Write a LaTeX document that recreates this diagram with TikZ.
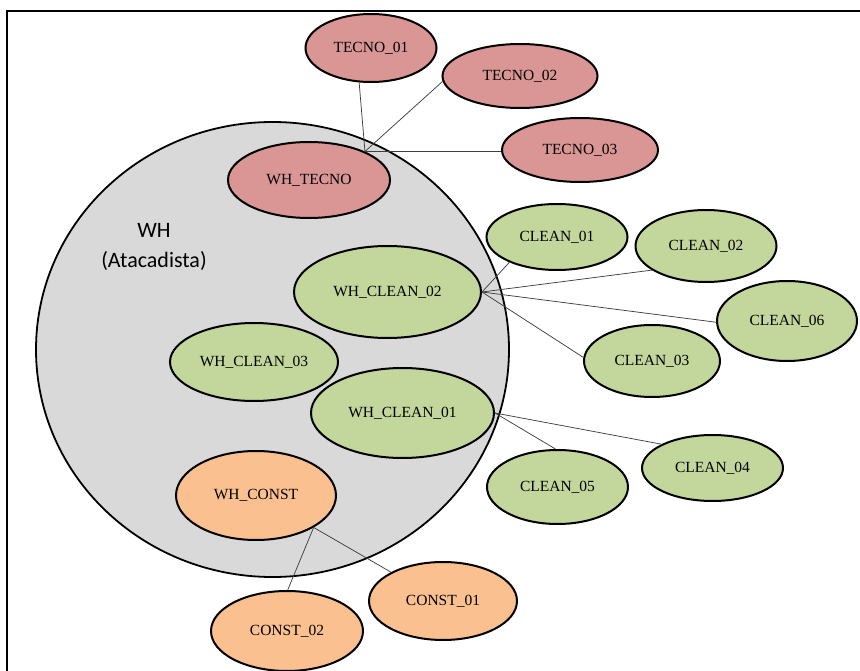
\documentclass[tikz,border=0pt]{standalone}
\usepackage{fontspec}
\setmainfont{Liberation Serif}
\newfontfamily\labelsans{Carlito}
\usetikzlibrary{shapes.geometric}
\definecolor{tecnofill}{HTML}{D99694}
\definecolor{cleanfill}{HTML}{C3D69B}
\definecolor{constfill}{HTML}{FAC090}
\definecolor{whfill}{HTML}{D9D9D9}
\definecolor{linkgray}{HTML}{404040}
\tikzset{
  blob/.style={ellipse, draw=black, line width=2pt, inner sep=0pt,
    font=\fontsize{15.5}{18}\selectfont, text=black},
  tecno/.style={blob, fill=tecnofill},
  clean/.style={blob, fill=cleanfill},
  constr/.style={blob, fill=constfill},
  link/.style={draw=linkgray, line width=0.75pt},
}
\begin{document}
\begin{tikzpicture}[x=1pt,y=-1pt]
\useasboundingbox (0,0) rectangle (860,671);
% page frame
\draw[line width=1.3pt] (7,690) -- (7,11) -- (870,11);

% warehouse area
\node (wh) [ellipse, draw=black, line width=1.8pt, fill=whfill, inner sep=0pt,
  minimum width=473pt, minimum height=455pt] at (272.5,349.5) {};
\node (whlabel) [font=\labelsans\fontsize{22}{30}\selectfont, align=center, text=black]
  at (154,247) {WH\\(Atacadista)};

% technology group
\node (whtecno) [tecno, minimum width=162pt, minimum height=76pt] at (309,180) {WH\_TECNO};
\node (t1) [tecno, minimum width=131pt, minimum height=68pt] at (371,48) {TECNO\_01};
\node (t2) [tecno, minimum width=155pt, minimum height=64pt] at (520,76) {TECNO\_02};
\node (t3) [tecno, minimum width=156pt, minimum height=64pt] at (580,150) {TECNO\_03};

% cleaning group
\node (wc2) [clean, minimum width=187pt, minimum height=92pt] at (387.5,292) {WH\_CLEAN\_02};
\node (wc3) [clean, minimum width=168pt, minimum height=78pt] at (254,362) {WH\_CLEAN\_03};
\node (wc1) [clean, minimum width=183pt, minimum height=90pt] at (402.5,413) {WH\_CLEAN\_01};
\node (c1) [clean, minimum width=141pt, minimum height=66pt] at (557,237) {CLEAN\_01};
\node (c2) [clean, minimum width=141pt, minimum height=72pt] at (706,246) {CLEAN\_02};
\node (c6) [clean, minimum width=140pt, minimum height=80pt] at (787,321) {CLEAN\_06};
\node (c3) [clean, minimum width=136pt, minimum height=72pt] at (652,361) {CLEAN\_03};
\node (c4) [clean, minimum width=141pt, minimum height=66pt] at (712.5,468) {CLEAN\_04};
\node (c5) [clean, minimum width=141pt, minimum height=74pt] at (557.5,487) {CLEAN\_05};

% construction group
\node (wconst) [constr, minimum width=160pt, minimum height=89pt] at (256,495.5) {WH\_CONST};
\node (k1) [constr, minimum width=148pt, minimum height=78pt] at (443,601) {CONST\_01};
\node (k2) [constr, minimum width=152pt, minimum height=80pt] at (287,631) {CONST\_02};

% links between warehouse units and their members
\path[link] (whtecno.27) -- (t1.251);
\path[link] (whtecno.27) -- (t2.184);
\path[link] (whtecno.27) -- (t3.181);
\path[link] (wc2.east) -- (c1.208);
\path[link] (wc2.east) -- (c2.204);
\path[link] (wc2.east) -- (c6.181);
\path[link] (wc2.east) -- (c3.177);
\path[link] (wc1.east) -- (c4.155);
\path[link] (wc1.east) -- (c5.93);
\path[link] (wconst.331) -- (k1.151);
\path[link] (wconst.331) -- (k2.89);
\end{tikzpicture}
\end{document}
